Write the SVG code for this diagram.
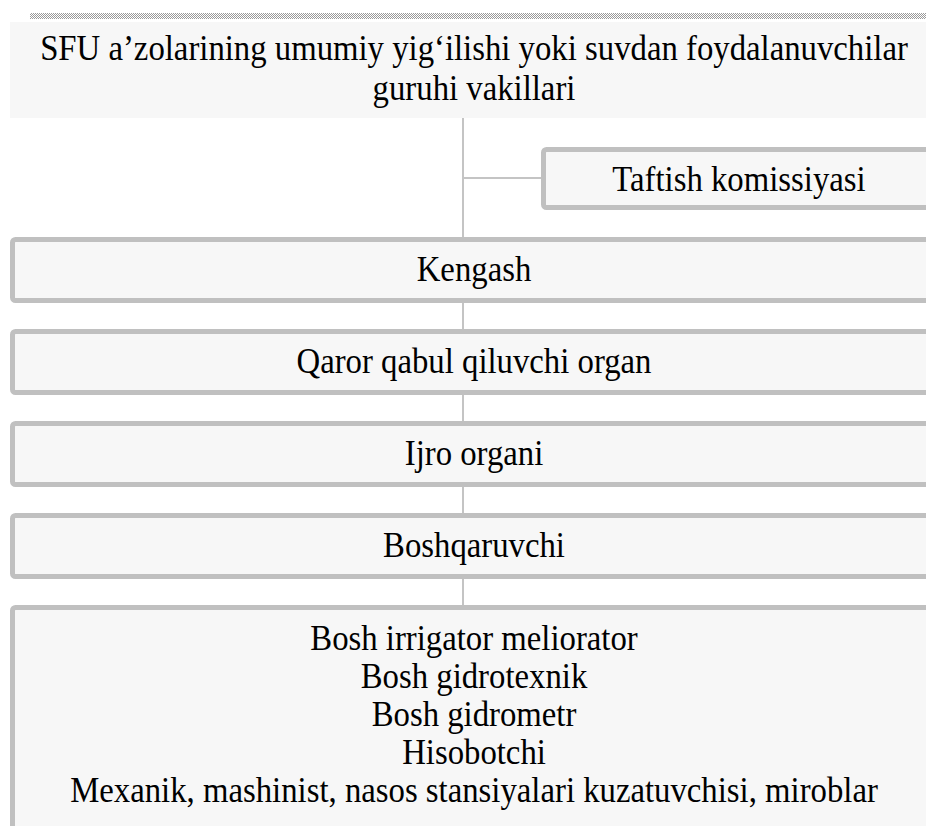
<svg xmlns="http://www.w3.org/2000/svg" width="926" height="826" viewBox="0 0 926 826">
<defs>
<pattern id="dots" width="2" height="2" patternUnits="userSpaceOnUse">
<rect width="2" height="2" fill="#ffffff"/>
<rect width="1" height="1" fill="#9a9a9a"/>
<rect x="1" y="1" width="1" height="1" fill="#9a9a9a"/>
</pattern>
</defs>
<style>
.box{fill:#f7f7f7;stroke:#c0c0c0;stroke-width:5}
.plain{fill:#f7f7f7}
.t{font-family:"Liberation Serif","Times New Roman",serif;font-size:36px;fill:#000;text-anchor:middle}
.c{stroke:#c4c4c4;stroke-width:2;fill:none}
</style>
<rect x="0" y="0" width="926" height="826" fill="#ffffff"/>
<rect x="30" y="13" width="896" height="6" fill="url(#dots)"/>
<g id="connectors">
<line class="c" x1="463" y1="118" x2="463" y2="606"/>
<line class="c" x1="463" y1="178" x2="542" y2="178"/>
</g>
<g id="node-sfu">
<rect class="plain" x="10" y="22" width="930" height="96"/>
<text class="t" transform="translate(474 60) scale(0.91 1)">SFU a’zolarining umumiy yig‘ilishi yoki suvdan foydalanuvchilar</text>
<text class="t" transform="translate(474 100) scale(0.91 1)">guruhi vakillari</text>
</g>
<g id="node-taftish">
<rect class="box" x="543.5" y="149.5" width="400" height="58" rx="3"/>
<text class="t" transform="translate(739 191) scale(0.91 1)">Taftish komissiyasi</text>
</g>
<g id="node-kengash">
<rect class="box" x="12.5" y="239.5" width="930" height="61" rx="3"/>
<text class="t" transform="translate(474 281) scale(0.91 1)">Kengash</text>
</g>
<g id="node-qaror">
<rect class="box" x="12.5" y="331.5" width="930" height="61" rx="3"/>
<text class="t" transform="translate(474 373) scale(0.91 1)">Qaror qabul qiluvchi organ</text>
</g>
<g id="node-ijro">
<rect class="box" x="12.5" y="423.5" width="930" height="61" rx="3"/>
<text class="t" transform="translate(474 465) scale(0.91 1)">Ijro organi</text>
</g>
<g id="node-boshqaruvchi">
<rect class="box" x="12.5" y="515.5" width="930" height="61" rx="3"/>
<text class="t" transform="translate(474 557) scale(0.91 1)">Boshqaruvchi</text>
</g>
<g id="node-staff">
<rect class="box" x="12.5" y="607.5" width="930" height="260" rx="3"/>
<text class="t" transform="translate(474 650) scale(0.91 1)">Bosh irrigator meliorator</text>
<text class="t" transform="translate(474 688) scale(0.91 1)">Bosh gidrotexnik</text>
<text class="t" transform="translate(474 726) scale(0.91 1)">Bosh gidrometr</text>
<text class="t" transform="translate(474 764) scale(0.91 1)">Hisobotchi</text>
<text class="t" transform="translate(474 802) scale(0.91 1)">Mexanik, mashinist, nasos stansiyalari kuzatuvchisi, miroblar</text>
</g>
</svg>
